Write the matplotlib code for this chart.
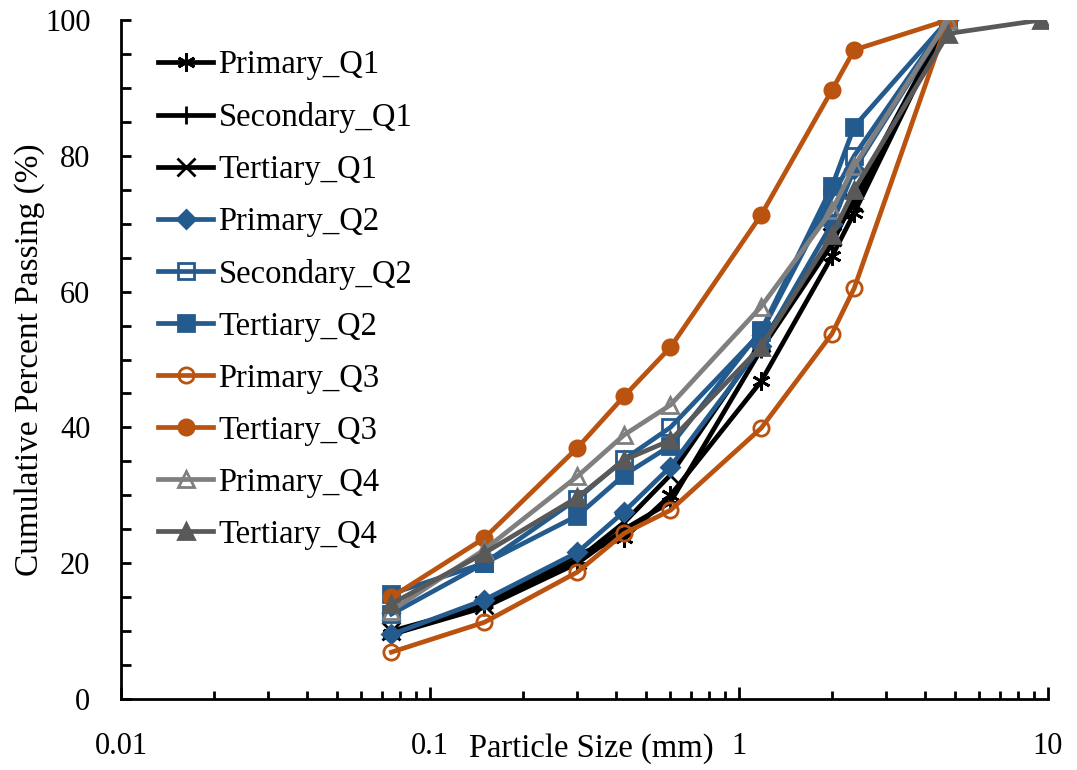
import matplotlib

matplotlib.use("Agg")
import matplotlib.pyplot as plt
from matplotlib.ticker import FixedLocator, NullFormatter, LogLocator, MultipleLocator

# sieve sizes (mm)
sizes = [0.075, 0.15, 0.3, 0.425, 0.6, 1.18, 2.0, 2.36, 4.75]
sizes_q4 = [0.075, 0.15, 0.3, 0.425, 0.6, 1.18, 2.0, 2.36, 4.75, 9.5]

primary_q1 = [9.5, 14.0, 21.3, 23.7, 30.0, 46.8, 65.2, 71.6, 100]
secondary_q1 = [9.5, 13.5, 20.0, 25.0, 29.0, 51.5, 67.0, 74.0, 100]
tertiary_q1 = [10.0, 13.8, 20.5, 26.0, 33.0, 52.5, 68.0, 73.0, 100]
primary_q2 = [9.5, 14.6, 21.6, 27.6, 34.2, 52.0, 70.0, 78.0, 100]
secondary_q2 = [12.5, 20.0, 29.5, 35.3, 40.0, 54.0, 74.0, 80.0, 100]
tertiary_q2 = [15.5, 20.0, 27.0, 33.0, 37.3, 54.3, 75.5, 84.3, 100]
primary_q3 = [6.9, 11.3, 18.7, 24.4, 27.8, 39.9, 53.8, 60.5, 100]
tertiary_q3 = [15.0, 23.7, 37.0, 44.6, 51.8, 71.3, 89.7, 95.6, 100]
primary_q4 = [13.0, 22.0, 32.8, 38.9, 43.3, 57.8, 72.0, 78.5, 100]
tertiary_q4 = [14.0, 21.5, 29.7, 35.2, 38.1, 51.9, 68.3, 75.0, 98.0, 100]

BLACK = "#000000"
BLUE = "#245B8E"
ORANGE = "#B9530F"
GRAY = "#7F7F7F"
DGRAY = "#595959"

ASTERISK = (6, 2, 0)

series = [
    ("Primary_Q1", sizes, primary_q1, BLACK, ASTERISK, "full"),
    ("Secondary_Q1", sizes, secondary_q1, BLACK, "+", "full"),
    ("Tertiary_Q1", sizes, tertiary_q1, BLACK, "x", "full"),
    ("Primary_Q2", sizes, primary_q2, BLUE, "D", "full"),
    ("Secondary_Q2", sizes, secondary_q2, BLUE, "s", "none"),
    ("Tertiary_Q2", sizes, tertiary_q2, BLUE, "s", "full"),
    ("Primary_Q3", sizes, primary_q3, ORANGE, "o", "none"),
    ("Tertiary_Q3", sizes, tertiary_q3, ORANGE, "o", "full"),
    ("Primary_Q4", sizes, primary_q4, GRAY, "^", "none"),
    ("Tertiary_Q4", sizes_q4, tertiary_q4, DGRAY, "^", "full"),
]

plt.rcParams["font.family"] = ["Liberation Serif", "DejaVu Serif"]

fig = plt.figure(figsize=(10.77, 7.7), dpi=100)
ax = fig.add_axes([121 / 1077, 1 - 699 / 770, (1048 - 121) / 1077, (699 - 20) / 770])

for label, xs, ys, color, marker, fill in series:
    ms = 11
    if marker == "D":
        ms = 9
    if marker in ("+", "x", ASTERISK):
        ms = 13
    ax.plot(xs, ys, color=color, lw=3.4, marker=marker, markersize=ms,
            fillstyle=fill, markerfacecolor="white" if fill == "none" else color,
            markeredgecolor=color, markeredgewidth=2, label=label)

ax.set_xscale("log")
ax.set_xlim(0.01, 10)
ax.set_ylim(0, 100)
ax.xaxis.set_major_locator(FixedLocator([0.01, 0.1, 1, 10]))
ax.set_xticklabels(["0.01", "0.1", "1", "10"])
ax.xaxis.set_minor_locator(LogLocator(base=10, subs=range(2, 10)))
ax.xaxis.set_minor_formatter(NullFormatter())
ax.yaxis.set_major_locator(MultipleLocator(20))
ax.yaxis.set_minor_locator(MultipleLocator(5))

for side in ("top", "right"):
    ax.spines[side].set_visible(False)
for side in ("left", "bottom"):
    ax.spines[side].set_linewidth(2)

ax.tick_params(axis="both", which="both", direction="in", width=2, labelsize=22)
ax.tick_params(axis="x", which="major", length=9, pad=24)
ax.tick_params(axis="x", which="minor", length=6)
ax.tick_params(axis="y", which="both", length=7, pad=22)

ax.set_xlabel("Particle Size (mm)", fontsize=23.5)
ax.xaxis.set_label_coords(0.507, -0.05)
ax.set_ylabel("Cumulative Percent Passing (%)", fontsize=24)
ax.yaxis.set_label_coords(-0.082, 0.5)

leg = ax.legend(loc="upper left", bbox_to_anchor=(158 / 1077, 1 - 50 / 770),
                bbox_transform=fig.transFigure, frameon=False, fontsize=23.5,
                handlelength=1.7, handletextpad=0.15, labelspacing=0.66,
                borderpad=0, borderaxespad=0)

fig.savefig("out.png", dpi=100)
plt.close(fig)
